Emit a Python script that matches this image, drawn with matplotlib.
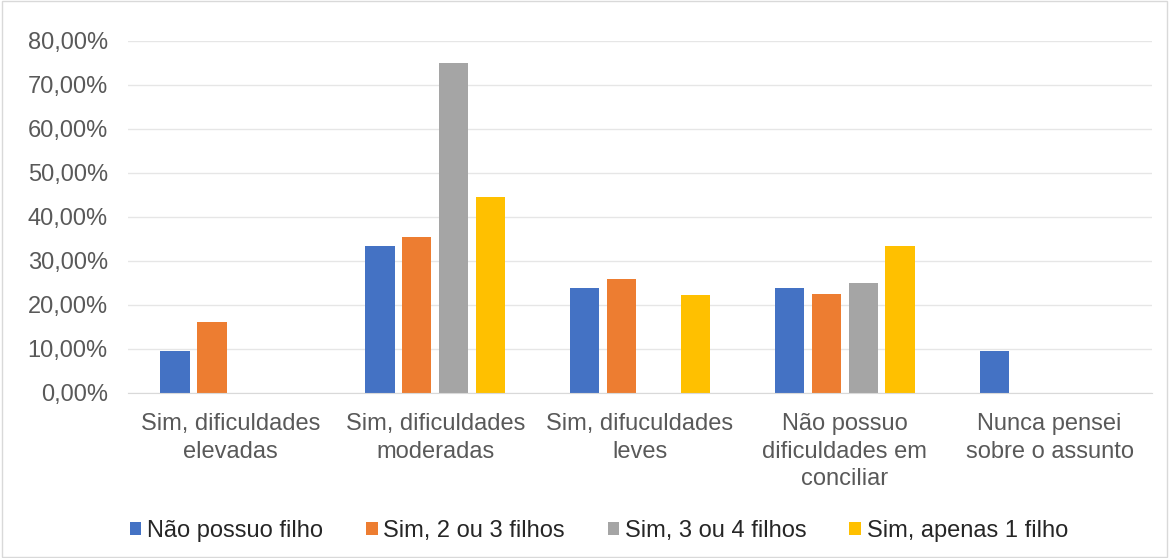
import matplotlib
matplotlib.use("Agg")
import matplotlib.pyplot as plt
from matplotlib.patches import Rectangle
import numpy as np

plt.rcParams['font.family'] = ['Liberation Sans', 'DejaVu Sans']

categories = ["Sim, dificuldades\nelevadas", "Sim, dificuldades\nmoderadas",
              "Sim, difuculdades\nleves", "Não possuo\ndificuldades em\nconciliar",
              "Nunca pensei\nsobre o assunto"]
series_names = ["Não possuo filho", "Sim, 2 ou 3 filhos", "Sim, 3 ou 4 filhos", "Sim, apenas 1 filho"]
nao_possuo = [9.52, 33.33, 23.81, 23.81, 9.52]
sim_2_3 = [16.13, 35.48, 25.81, 22.58, 0]
sim_3_4 = [0, 75.00, 0, 25.00, 0]
sim_1 = [0, 44.44, 22.22, 33.33, 0]
yticks = [0, 10, 20, 30, 40, 50, 60, 70, 80]

colors = ["#4472C4", "#ED7D31", "#A5A5A5", "#FFC000"]
series = [nao_possuo, sim_2_3, sim_3_4, sim_1]

fig = plt.figure(figsize=(11.69, 5.58), dpi=100)
ax = fig.add_axes([128/1169, 1 - 393/558, 1024/1169, 352/558])

x = np.arange(len(categories))
pitch = 0.18
width = 0.143
for i, (vals, c, name) in enumerate(zip(series, colors, series_names)):
    ax.bar(x + (i - 1.5) * pitch, vals, width=width, color=c, label=name, zorder=3)

fs = 17
ax.set_xlim(-0.5, len(categories) - 0.5)
ax.set_ylim(0, 80)
ax.set_yticks(yticks)
ax.set_yticklabels([f"{v:.2f}%".replace(".", ",") for v in yticks], color="#595959", fontsize=fs)
ax.set_xticks(x)
ax.set_xticklabels(categories, color="#595959", fontsize=fs, linespacing=1.32, va="top")
ax.tick_params(axis="both", length=0)
ax.tick_params(axis="y", pad=14.5)
ax.tick_params(axis="x", pad=14.5)
ax.yaxis.grid(True, color="#E6E6E6", linewidth=1, zorder=0)
for s in ["top", "right", "left"]:
    ax.spines[s].set_visible(False)
ax.spines["bottom"].set_color("#D9D9D9")
ax.spines["bottom"].set_zorder(4)

leg = fig.legend(loc="center", bbox_to_anchor=(599/1169, 1 - 531/558), ncol=4, frameon=False,
                 fontsize=fs, handlelength=0.5, handleheight=0.5, handletextpad=0.25,
                 columnspacing=1.8)
for t in leg.get_texts():
    t.set_color("#262626")

fig.patches.append(Rectangle((0.002, 0.002), 0.996, 0.996, transform=fig.transFigure,
                             fill=False, edgecolor="#D9D9D9", linewidth=1))

fig.savefig("out.png", dpi=100, facecolor="white")
